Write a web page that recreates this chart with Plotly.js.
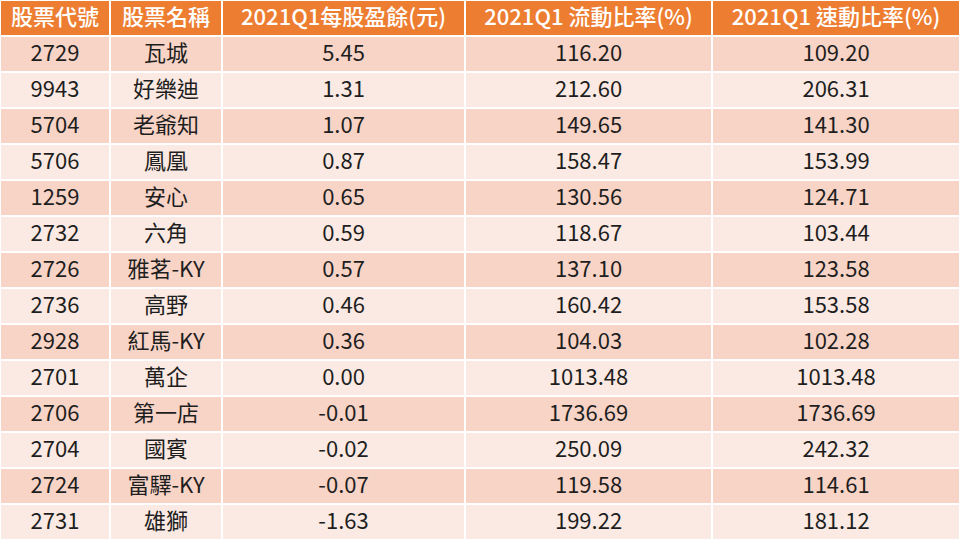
<!DOCTYPE html>
<html><head><meta charset="utf-8">
<script src="https://cdn.plot.ly/plotly-3.0.1.min.js"></script>
<style>html,body{margin:0;padding:0;background:#fff;}#chart{width:960px;height:540px;}</style>
</head><body><div id="chart"></div>
<script>
const headers = ['股票代號','股票名稱','2021Q1每股盈餘(元)','2021Q1 流動比率(%)','2021Q1 速動比率(%)'];
const codes = ['2729','9943','5704','5706','1259','2732','2726','2736','2928','2701','2706','2704','2724','2731'];
const names = ['瓦城','好樂迪','老爺知','鳳凰','安心','六角','雅茗-KY','高野','紅馬-KY','萬企','第一店','國賓','富驛-KY','雄獅'];
const eps = [5.45,1.31,1.07,0.87,0.65,0.59,0.57,0.46,0.36,0.00,-0.01,-0.02,-0.07,-1.63];
const currentRatio = [116.20,212.60,149.65,158.47,130.56,118.67,137.10,160.42,104.03,1013.48,1736.69,250.09,119.58,199.22];
const quickRatio = [109.20,206.31,141.30,153.99,124.71,103.44,123.58,153.58,102.28,1013.48,1736.69,242.32,114.61,181.12];

const rowColors = codes.map((_, i) => i % 2 === 0 ? '#F8D4C7' : '#FBEAE3');
const fillCols = headers.map(() => rowColors);

Plotly.newPlot('chart', [{
  type: 'table',
  columnwidth: [110, 112, 243, 247, 248],
  header: {
    values: headers,
    align: 'center',
    height: 36,
    fill: {color: '#ED7D31'},
    line: {color: '#FFFFFF', width: 2},
    font: {family: '"Noto Sans CJK TC", "Noto Sans", sans-serif', size: 22, color: '#FFFFFF', weight: 500}
  },
  cells: {
    values: [codes, names, eps, currentRatio, quickRatio],
    format: ['', '', '.2f', '.2f', '.2f'],
    align: 'center',
    height: 36,
    fill: {color: fillCols},
    line: {color: '#FFFFFF', width: 2},
    font: {family: '"Noto Sans CJK TC", "Noto Sans", sans-serif', size: 22, color: '#1E1E1E'}
  },
  domain: {x: [0, 1], y: [0, 1]}
}], {
  width: 960, height: 540,
  margin: {l: 0, r: 0, t: 0, b: 0},
  paper_bgcolor: '#FFFFFF'
}, {displayModeBar: false, staticPlot: true});
</script>
</body></html>
